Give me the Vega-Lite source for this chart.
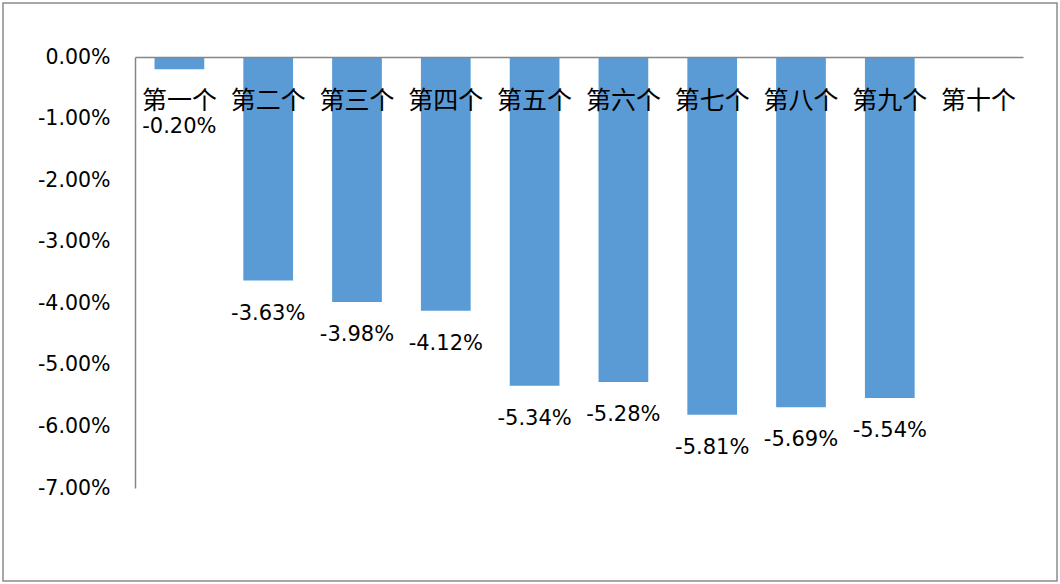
{
  "$schema": "https://vega.github.io/schema/vega-lite/v6.json",
  "width": 1054,
  "height": 578,
  "autosize": {"type": "none"},
  "padding": {"left": 3, "top": 3, "right": 3, "bottom": 3},
  "background": "white",
  "config": {
    "view": {"stroke": "#8c8c8c", "strokeWidth": 1.5},
    "locale": {"number": {"decimal": ".", "thousands": ",", "grouping": [3], "currency": ["$", ""], "minus": "-"}}
  },
  "data": {
    "values": [
      {"cat": "第一个", "v": -0.0020},
      {"cat": "第二个", "v": -0.0363},
      {"cat": "第三个", "v": -0.0398},
      {"cat": "第四个", "v": -0.0412},
      {"cat": "第五个", "v": -0.0534},
      {"cat": "第六个", "v": -0.0528},
      {"cat": "第七个", "v": -0.0581},
      {"cat": "第八个", "v": -0.0569},
      {"cat": "第九个", "v": -0.0554},
      {"cat": "第十个", "v": null}
    ]
  },
  "encoding": {
    "x": {
      "field": "cat",
      "type": "nominal",
      "sort": null,
      "scale": {
        "domain": ["第一个", "第二个", "第三个", "第四个", "第五个", "第六个", "第七个", "第八个", "第九个", "第十个"],
        "range": [132, 1020],
        "paddingInner": 0.44,
        "paddingOuter": 0.22
      },
      "axis": {
        "orient": "top",
        "offset": -54,
        "zindex": 1,
        "title": null,
        "ticks": false,
        "tickSize": 0,
        "labelPadding": -43,
        "labelBaseline": "middle",
        "labelAngle": 0,
        "labelFont": "Noto Sans CJK SC",
        "labelFontSize": 25,
        "labelColor": "#000000",
        "domainColor": "#868686",
        "domainWidth": 1.5,
        "grid": false
      }
    },
    "y": {
      "field": "v",
      "type": "quantitative",
      "scale": {"domain": [-0.07, 0], "range": [485, 54], "nice": false},
      "axis": {
        "orient": "left",
        "offset": -132,
        "zindex": 1,
        "title": null,
        "values": [0, -0.01, -0.02, -0.03, -0.04, -0.05, -0.06, -0.07],
        "format": ".2%",
        "ticks": false,
        "tickSize": 0,
        "labelPadding": 25,
        "labelFont": "DejaVu Sans",
        "labelFontSize": 20.5,
        "labelColor": "#000000",
        "domainColor": "#868686",
        "domainWidth": 1.5,
        "grid": false
      }
    }
  },
  "layer": [
    {
      "mark": {"type": "bar", "color": "#5B9BD5"}
    },
    {
      "transform": [{"filter": "isValid(datum.v) && datum.v < -0.01"}],
      "mark": {"type": "text", "baseline": "middle", "dy": 33, "font": "DejaVu Sans", "fontSize": 21, "color": "#000000"},
      "encoding": {"text": {"field": "v", "type": "quantitative", "format": ".2%"}}
    },
    {
      "transform": [{"filter": "isValid(datum.v) && datum.v >= -0.01"}],
      "mark": {"type": "text", "baseline": "middle", "dy": 58, "font": "DejaVu Sans", "fontSize": 21, "color": "#000000"},
      "encoding": {"text": {"field": "v", "type": "quantitative", "format": ".2%"}}
    }
  ]
}
